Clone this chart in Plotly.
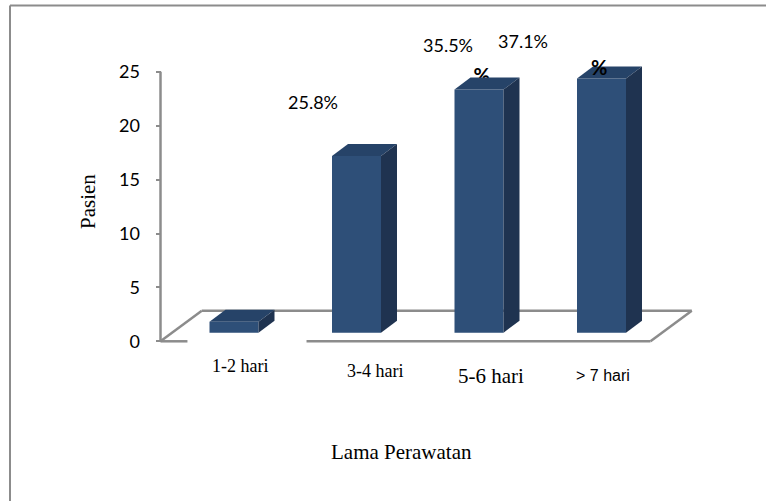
import plotly.graph_objects as go

# ---- data ----
categories = ["1-2 hari", "3-4 hari", "5-6 hari", "> 7 hari"]
patients = [1, 16, 22, 23]
percent_labels = ["25.8%", "35.5%", "37.1%"]   # shown for the three larger groups
y_ticks = [0, 5, 10, 15, 20, 25]

# ---- canvas geometry (pixels) ----
W, H = 766, 501
PL, PR, PT, PB = 145, 700, 55, 350          # plot area edges
SX = 122.5                                   # px per category slot
X0_PX = 160.5                                # pixel of x = -0.5 (value axis)
Y1_ZERO, SY1 = 341.3, 10.78                  # back-wall value scale
Y2_ZERO, SY2 = 332.7, 11.05                  # front-plane value scale (bars)

x_rng = [-0.5 - (X0_PX - PL) / SX, -0.5 + (PR - X0_PX) / SX]
y1_rng = [-(PB - Y1_ZERO) / SY1, (Y1_ZERO - PT) / SY1]
y2_rng = [-(PB - Y2_ZERO) / SY2, (Y2_ZERO - PT) / SY2]


def px(xp):
    return (xp - PL) / (PR - PL)


def py(yp):
    return (PB - yp) / (PB - PT)


# 3D styling
FRONT, TOP, SIDE = "#2E4F78", "#264368", "#1F3350"
GREY = "#8C8C8C"
BAR_W = 0.4
SHIFT = 0.1                 # bars sit mid-depth on the floor
DDX = 16 / SX               # bar depth offset in x units
DDY = 12 / SY2              # bar depth offset in y2 units
FLOOR_DX = 0.337
FLOOR_DY = 2.83

xs = [i + SHIFT for i in range(len(categories))]

fig = go.Figure()

# stray bold percent sign partly hidden behind the 5-6 hari bar top
fig.add_trace(go.Scatter(
    x=[2 + 0.122], y=[23.05], yaxis="y2", mode="text", text=["%"],
    textfont=dict(family="Lato", size=20, color="black", weight="bold"),
    hoverinfo="skip", showlegend=False))

# front faces of the columns
fig.add_trace(go.Bar(
    x=xs, y=patients, width=BAR_W, yaxis="y2",
    marker=dict(color=FRONT, line=dict(width=0)),
    hoverinfo="skip", showlegend=False))

shapes = []

# floor of the 3D plot (drawn beneath the columns)
floor_segments = [
    ((-0.5, 0), (-0.28, 0)),
    ((0.692, 0), (3.5, 0)),
    ((3.5, 0), (3.5 + FLOOR_DX, FLOOR_DY)),
    ((-0.5 + FLOOR_DX, FLOOR_DY), (3.5 + FLOOR_DX, FLOOR_DY)),
    ((-0.5, 0), (-0.5 + FLOOR_DX, FLOOR_DY)),
]
for (xa, ya), (xb, yb) in floor_segments:
    shapes.append(dict(type="line", xref="x", yref="y", x0=xa, y0=ya, x1=xb, y1=yb,
                       line=dict(color=GREY, width=2.5), layer="below"))

# value axis line
shapes.append(dict(type="line", xref="x", yref="y", x0=-0.5, y0=0, x1=-0.5, y1=25,
                   line=dict(color=GREY, width=2.5), layer="below"))

# top and side faces of each column
for x, v in zip(xs, patients):
    l, r = x - BAR_W / 2, x + BAR_W / 2
    top = f"M{l},{v} L{r},{v} L{r + DDX},{v + DDY} L{l + DDX},{v + DDY} Z"
    side = f"M{r},0 L{r + DDX},{DDY} L{r + DDX},{v + DDY} L{r},{v} Z"
    shapes.append(dict(type="path", xref="x", yref="y2", path=top,
                       fillcolor=TOP, line=dict(width=0), layer="above"))
    shapes.append(dict(type="path", xref="x", yref="y2", path=side,
                       fillcolor=SIDE, line=dict(width=0), layer="above"))

annotations = []

# category labels
cat_pos = [(239.5, 366), (375, 371), (491, 376), (602.5, 375)]
cat_fonts = [dict(family="Liberation Serif", size=18),
             dict(family="Liberation Serif", size=18),
             dict(family="Liberation Serif", size=21),
             dict(family="Liberation Sans", size=16)]
for label, (cx, cy), f in zip(categories, cat_pos, cat_fonts):
    annotations.append(dict(text=label, xref="paper", yref="paper", x=px(cx), y=py(cy),
                            xanchor="center", yanchor="middle", showarrow=False,
                            font=dict(color="black", **f)))

# percentage labels
pct_pos = [(313, 102), (448, 45), (523, 41.5)]
for label, (cx, cy) in zip(percent_labels, pct_pos):
    annotations.append(dict(text=label, xref="paper", yref="paper", x=px(cx), y=py(cy),
                            xanchor="center", yanchor="middle", showarrow=False,
                            font=dict(family="Lato", size=18, color="black")))

# bold percent sign over the > 7 hari bar top
annotations.append(dict(text="%", xref="paper", yref="paper", x=px(598.7), y=py(67),
                        xanchor="center", yanchor="middle", showarrow=False,
                        font=dict(family="Lato", size=20, color="black", weight="bold")))

# axis titles
annotations.append(dict(text="Pasien", xref="paper", yref="paper", x=px(87.5), y=py(201.5),
                        xanchor="center", yanchor="middle", showarrow=False, textangle=-90,
                        font=dict(family="Liberation Serif", size=21, color="black")))
annotations.append(dict(text="Lama Perawatan", xref="paper", yref="paper",
                        x=px(401), y=py(451.5), xanchor="center", yanchor="middle",
                        showarrow=False,
                        font=dict(family="Liberation Serif", size=21, color="black")))

# outer frame (top and left edges)
shapes.append(dict(type="line", xref="paper", yref="paper", x0=px(10), y0=py(5.5),
                   x1=px(W), y1=py(5.5), line=dict(color=GREY, width=2), layer="above"))
shapes.append(dict(type="line", xref="paper", yref="paper", x0=px(10), y0=py(5.5),
                   x1=px(10), y1=py(H), line=dict(color=GREY, width=2), layer="above"))

fig.update_layout(
    width=W, height=H,
    margin=dict(l=PL, r=W - PR, t=PT, b=H - PB, pad=0),
    paper_bgcolor="white", plot_bgcolor="rgba(0,0,0,0)",
    showlegend=False,
    xaxis=dict(range=x_rng, visible=False, fixedrange=True),
    yaxis=dict(range=y1_rng, anchor="free", position=(X0_PX - PL) / (PR - PL),
               tickvals=y_ticks, ticks="outside", ticklen=5, tickwidth=2,
               tickcolor=GREY, showline=False, showgrid=False, zeroline=False,
               ticklabelstandoff=12,
               tickfont=dict(family="Lato", size=18, color="black"), fixedrange=True),
    yaxis2=dict(range=y2_rng, overlaying="y", visible=False, fixedrange=True),
    shapes=shapes,
    annotations=annotations,
)

fig.write_html("out.html")
